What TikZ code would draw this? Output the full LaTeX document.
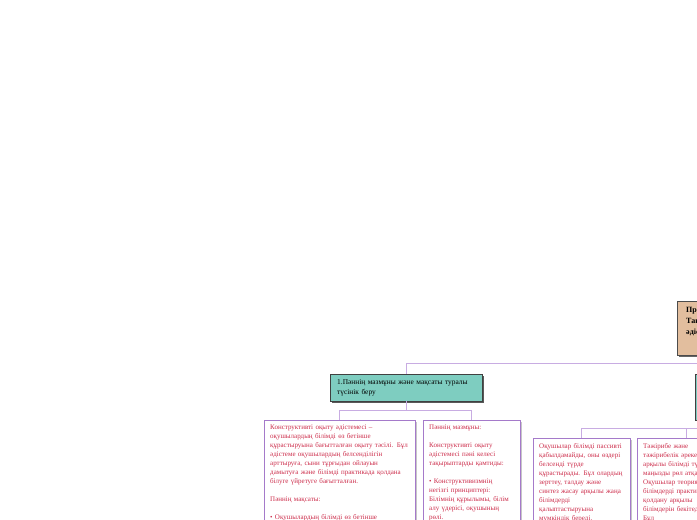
\documentclass[tikz,border=0pt]{standalone}
\usepackage{fontspec}
\setmainfont{Liberation Serif}
\usepackage{xcolor}
\usepackage{tikz}
\usetikzlibrary{shadows,positioning}

\definecolor{tanfill}{RGB}{226,190,158}
\definecolor{tealfill}{RGB}{126,205,192}
\definecolor{boxline}{RGB}{165,122,202}
\definecolor{linkline}{RGB}{200,172,226}
\definecolor{notetext}{RGB}{205,45,75}

\tikzset{
  rootbox/.style={draw=black!70, fill=tanfill, anchor=north west, align=left,
    inner xsep=9pt, inner ysep=6pt, font=\fontsize{8}{11}\selectfont\bfseries,
    drop shadow={shadow xshift=2pt, shadow yshift=-2pt, fill=black!60, opacity=1}},
  topicbox/.style={draw=black!75, fill=tealfill, anchor=north west, align=left,
    inner xsep=7pt, font=\fontsize{7.4}{10}\selectfont,
    drop shadow={shadow xshift=2pt, shadow yshift=-2pt, fill=black!65, opacity=1}},
  notebox/.style={draw=boxline, fill=white, anchor=north west, align=left,
    inner xsep=6pt, inner ysep=5pt, text=notetext, font=\fontsize{7}{9}\selectfont,
    drop shadow={shadow xshift=2pt, shadow yshift=-2pt, fill=black!22, opacity=1}},
  link/.style={draw=linkline, line width=1pt},
}

\begin{document}
\begin{tikzpicture}[x=1pt, y=-1pt]
    \useasboundingbox (0,0) rectangle (697,520);
    \clip (0,0) rectangle (697,520);

    % Root
    \node[rootbox, text width=122] (root) at (677,301)
      {Практикалық сабақ\\ Тақырыбы: Конструктивті\\ әдістемесі\\[3pt]\mbox{}};

    % Topics
    \node[topicbox, text width=138, minimum height=27] (t1) at (330,374)
      {1.Пәннің мазмұны және мақсаты туралы\\ түсінік беру};
    \node[topicbox, minimum width=152, minimum height=46] (t2) at (695,374) {};

    \draw[link] (root.south) -- ++(0,8) -| (t1.north);
    \draw[link] (root.south) ++(0,8) -| (t2.north);

    % Notes of topic 1
    \node[notebox, text width=139] (a1) at (264,420)
      {Конструктивті оқыту әдістемесі –\\
       оқушылардың білімді өз бетінше\\
       құрастыруына бағытталған оқыту тәсілі. Бұл\\
       әдістеме оқушылардың белсенділігін\\
       арттыруға, сыни тұрғыдан ойлауын\\
       дамытуға және білімді практикада қолдана\\
       білуге үйретуге бағытталған.\\[9pt]
       Пәннің мақсаты:\\[9pt]
       • Оқушылардың білімді өз бетінше\\[30pt]\mbox{}};
    \node[notebox, text width=85] (a2) at (423,420)
      {Пәннің мазмұны:\\[9pt]
       Конструктивті оқыту\\
       әдістемесі пәні келесі\\
       тақырыптарды қамтиды:\\[9pt]
       • Конструктивизмнің\\
       негізгі принциптері:\\
       Білімнің құрылымы, білім\\
       алу үдерісі, оқушының\\
       рөлі.\\[30pt]\mbox{}};

    \draw[link] (t1.south) -- ++(0,9) -| (a1.north);
    \draw[link] (t1.south) ++(0,9) -| (a2.north);

    % Notes of topic 2
    \node[notebox, text width=85] (b1) at (533,438)
      {Оқушылар білімді пассивті\\
       қабылдамайды, оны өздері\\
       белсенді түрде\\
       құрастырады. Бұл олардың\\
       зерттеу, талдау және\\
       синтез жасау арқылы жаңа\\
       білімдерді\\
       қалыптастыруына\\
       мүмкіндік береді.\\[30pt]\mbox{}};
    \node[notebox, text width=86] (b2) at (637,438)
      {Тәжірибе және\\
       тәжірибелік әрекет\\
       арқылы білімді түсіну\\
       маңызды рөл атқарады.\\
       Оқушылар теориялық\\
       білімдерді практикада\\
       қолдану арқылы\\
       білімдерін бекітеді.\\
       Бұл\\[30pt]\mbox{}};

    \draw[link] (t2.south) -- ++(0,8) -| (b1.north);
    \draw[link] (t2.south) ++(0,8) -| (b2.north);

\end{tikzpicture}
\end{document}
